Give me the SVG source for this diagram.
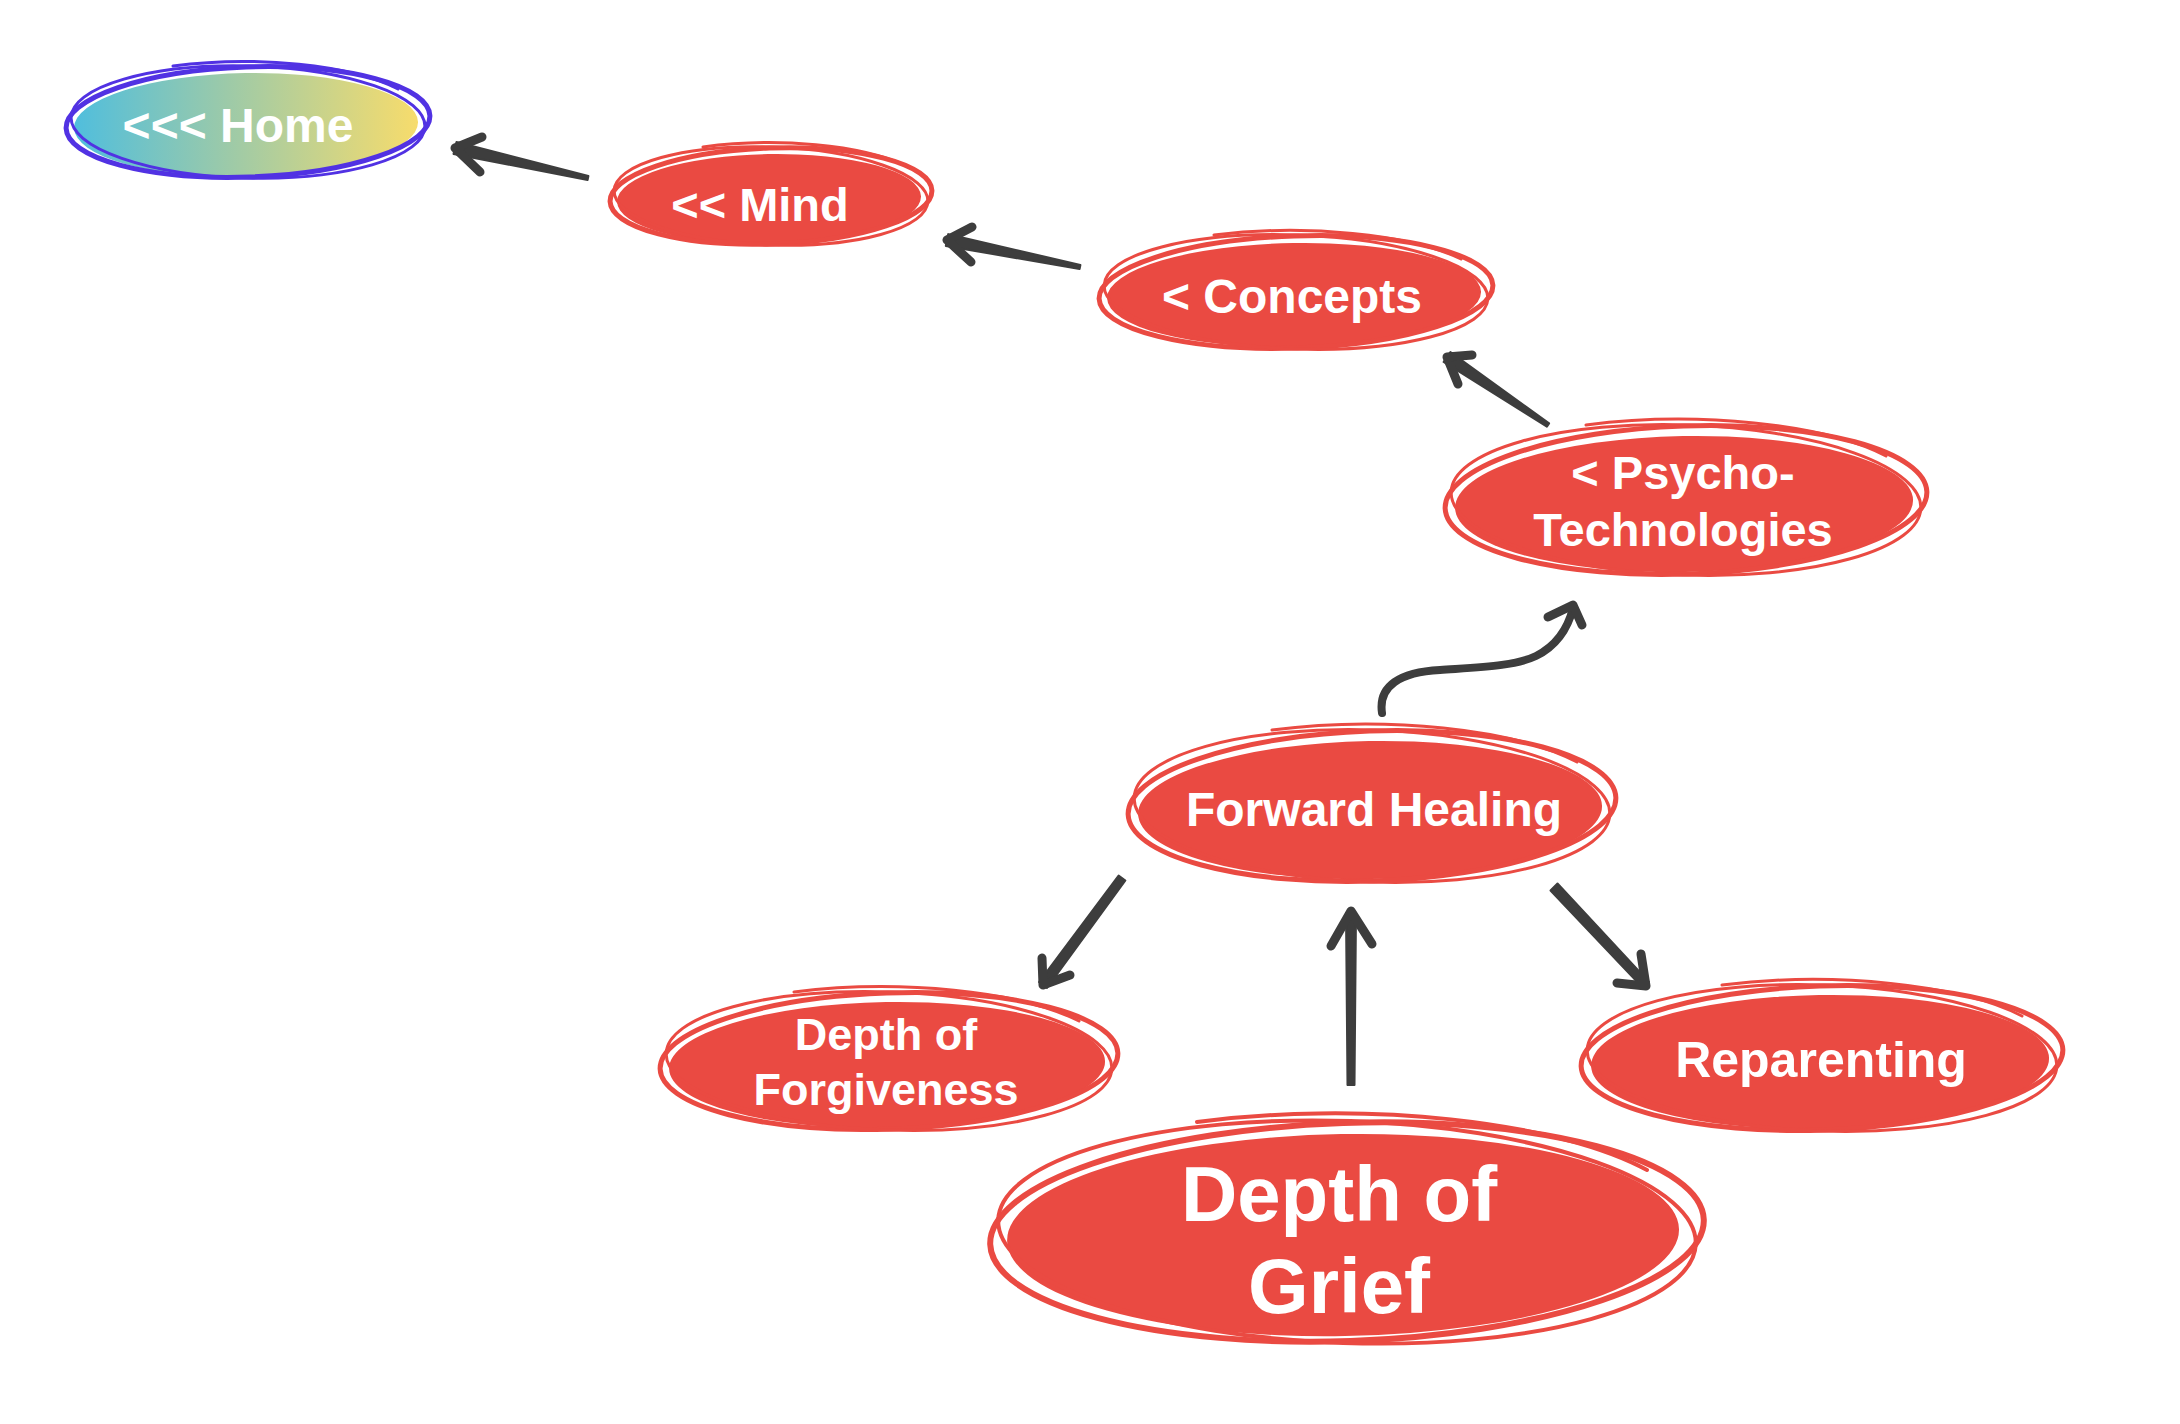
<svg xmlns="http://www.w3.org/2000/svg" width="2180" height="1424" viewBox="0 0 2180 1424">
<defs>
<linearGradient id="homeGrad" x1="0" y1="0" x2="1" y2="0">
<stop offset="0" stop-color="#50BEDD"/>
<stop offset="0.45" stop-color="#9DCAA8"/>
<stop offset="1" stop-color="#F7DC6C"/>
</linearGradient>
<style>
.fill{fill:#EA4A42}
.ring{fill:none;stroke:#EA4A42;stroke-linecap:round}
.ringh{fill:none;stroke:#5132E3;stroke-linecap:round}
.lbl{font-family:"Liberation Sans",Arial,sans-serif;font-weight:700;fill:#ffffff;text-anchor:middle}
.shaft{fill:#3D3D3D;stroke:#3D3D3D;stroke-width:2;stroke-linejoin:round}
.head{fill:none;stroke:#3D3D3D;stroke-width:9;stroke-linecap:round;stroke-linejoin:round}
.curve{fill:none;stroke:#3D3D3D;stroke-width:8;stroke-linecap:round}
</style>
</defs>
<rect width="2180" height="1424" fill="#ffffff"/>

<g id="connectors">
<!-- Mind -> Home -->
<polygon class="shaft" points="588.4,176 587.6,180 453.5,154 456.5,142"/>
<polyline class="head" points="482,137 455,148 480,172"/>
<!-- Concepts -> Mind -->
<polygon class="shaft" points="1080.4,265 1079.6,269 945.8,245.9 948.2,234.1"/>
<polyline class="head" points="972,227 947,240 971,262"/>
<!-- Psycho -> Concepts -->
<polygon class="shaft" points="1549.1,423.4 1546.9,426.6 1443.6,362 1450.4,352"/>
<polyline class="head" points="1472,355 1447,357 1458,384"/>
<!-- Forward Healing -> Psycho -->
<path class="curve" d="M1382,713 C1378,686 1400,672 1440,670 C1482,667 1515,666 1536,656 C1556,646 1568,628 1573,608"/>
<polyline class="head" points="1548,617 1573,605 1582,625"/>
<!-- Forward Healing -> Forgiveness -->
<polygon class="shaft" points="1125.4,880.5 1118.6,875.5 1039,982 1047,988"/>
<polyline class="head" points="1042,958 1043,985 1070,975"/>
<!-- Grief -> Forward Healing -->
<polygon class="shaft" points="1347.5,1085 1354.5,1085 1356,913 1346,913"/>
<polyline class="head" points="1331,946 1351,911 1372,944"/>
<!-- Forward Healing -> Reparenting -->
<polygon class="shaft" points="1550.5,890.5 1557.5,883.5 1649,982 1643,988"/>
<polyline class="head" points="1617,983 1646,986 1641,954"/>
</g>

<g id="node-home" transform="translate(248,122)">
<ellipse cx="-2" cy="3" rx="172" ry="52" fill="url(#homeGrad)" transform="rotate(-1)"/>
<ellipse class="ringh" rx="182" ry="55" transform="rotate(-2)" stroke-width="5"/>
<ellipse class="ringh" rx="177" ry="56" transform="rotate(1.5)" stroke-width="3"/>
<path class="ringh" d="M-75,-56 A182 58 0 0 1 150,-33" stroke-width="3"/>
<text class="lbl" x="-10" y="20" font-size="48">&lt;&lt;&lt; Home</text>
</g>

<g id="node-mind" transform="translate(771,196)">
<ellipse class="fill" cx="-2" cy="3" rx="152" ry="45" transform="rotate(-1)"/>
<ellipse class="ring" rx="161" ry="48" transform="rotate(-2)" stroke-width="5"/>
<ellipse class="ring" rx="157" ry="49" transform="rotate(2)" stroke-width="3"/>
<path class="ring" d="M-68,-49 A163 51 0 0 1 135,-30" stroke-width="3"/>
<text class="lbl" x="-11" y="25" font-size="47">&lt;&lt; Mind</text>
</g>

<g id="node-concepts" transform="translate(1296,292)">
<ellipse class="fill" cx="-2" cy="3" rx="187" ry="52" transform="rotate(-1)"/>
<ellipse class="ring" rx="197" ry="56" transform="rotate(-2)" stroke-width="5"/>
<ellipse class="ring" rx="192" ry="57" transform="rotate(2)" stroke-width="3"/>
<path class="ring" d="M-82,-57 A199 59 0 0 1 165,-33" stroke-width="3"/>
<text class="lbl" x="-4" y="21" font-size="48">&lt; Concepts</text>
</g>

<g id="node-psycho" transform="translate(1686,500)">
<ellipse class="fill" cx="-2" cy="4" rx="229" ry="68" transform="rotate(-1)"/>
<ellipse class="ring" rx="241" ry="74" transform="rotate(-2)" stroke-width="5"/>
<ellipse class="ring" rx="235" ry="75" transform="rotate(2)" stroke-width="3"/>
<path class="ring" d="M-100,-75 A243 77 0 0 1 200,-44" stroke-width="3"/>
<text class="lbl" x="-3" y="-11" font-size="47">&lt; Psycho-</text>
<text class="lbl" x="-3" y="46" font-size="47">Technologies</text>
</g>

<g id="node-forward-healing" transform="translate(1372,806)">
<ellipse class="fill" cx="-2" cy="4" rx="232" ry="69" transform="rotate(-1)"/>
<ellipse class="ring" rx="244" ry="75" transform="rotate(-2)" stroke-width="5"/>
<ellipse class="ring" rx="238" ry="76" transform="rotate(2)" stroke-width="3"/>
<path class="ring" d="M-100,-76 A246 78 0 0 1 205,-44" stroke-width="3"/>
<text class="lbl" x="2" y="20" font-size="48">Forward Healing</text>
</g>

<g id="node-forgiveness" transform="translate(889,1061)">
<ellipse class="fill" cx="-2" cy="4" rx="218" ry="63" transform="rotate(-1)"/>
<ellipse class="ring" rx="229" ry="68" transform="rotate(-2)" stroke-width="5"/>
<ellipse class="ring" rx="223" ry="69" transform="rotate(2)" stroke-width="3"/>
<path class="ring" d="M-95,-69 A231 71 0 0 1 190,-40" stroke-width="3"/>
<text class="lbl" x="-3" y="-11" font-size="45">Depth of</text>
<text class="lbl" x="-3" y="44" font-size="45">Forgiveness</text>
</g>

<g id="node-reparenting" transform="translate(1822,1058)">
<ellipse class="fill" cx="-2" cy="4" rx="229" ry="67" transform="rotate(-1)"/>
<ellipse class="ring" rx="241" ry="72" transform="rotate(-2)" stroke-width="5"/>
<ellipse class="ring" rx="235" ry="73" transform="rotate(2)" stroke-width="3"/>
<path class="ring" d="M-100,-73 A243 75 0 0 1 200,-42" stroke-width="3"/>
<text class="lbl" x="-1" y="19" font-size="50">Reparenting</text>
</g>

<g id="node-grief" transform="translate(1347,1232)">
<ellipse class="fill" cx="-4" cy="3" rx="336" ry="101" transform="rotate(-1)"/>
<ellipse class="ring" rx="357" ry="109" transform="rotate(-2)" stroke-width="6"/>
<ellipse class="ring" rx="349" ry="111" transform="rotate(2)" stroke-width="4"/>
<path class="ring" d="M-150,-110 A360 113 0 0 1 300,-62" stroke-width="4"/>
<text class="lbl" x="-8" y="-11" font-size="78">Depth of</text>
<text class="lbl" x="-8" y="81" font-size="78">Grief</text>
</g>
</svg>
